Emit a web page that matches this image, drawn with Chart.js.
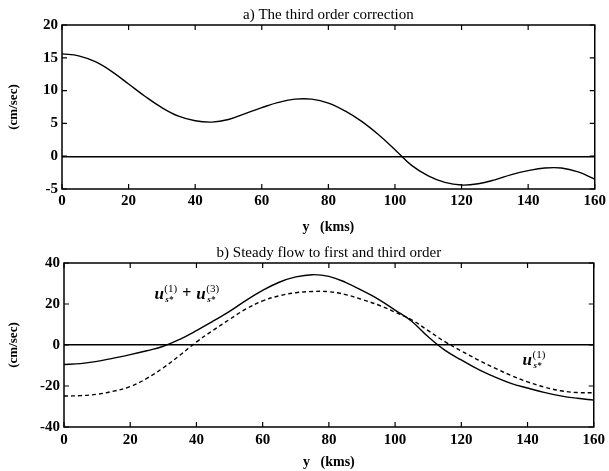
<!DOCTYPE html>
<html>
<head>
<meta charset="utf-8">
<script src="https://cdn.jsdelivr.net/npm/chart.js@4/dist/chart.umd.min.js"></script>
<style>
  html, body { margin: 0; padding: 0; background: #fff; }
  .panel { position: absolute; left: 0; width: 609px; }
  #panelA { top: 0; height: 236px; }
  #panelB { top: 236px; height: 235px; }
</style>
</head>
<body>
<div id="panelA" class="panel"><canvas id="chartA"></canvas></div>
<div id="panelB" class="panel"><canvas id="chartB"></canvas></div>
<script>
// Cross-channel position (km)
const kms = [0, 5, 10, 15, 20, 25, 30, 35, 40, 45, 50, 55, 60, 65, 70, 75, 80,
             85, 90, 95, 100, 105, 110, 115, 120, 125, 130, 135, 140, 145, 150, 155, 160];

// a) third order correction (cm/sec)
const thirdOrder = [15.6, 15.3, 14.4, 12.9, 11.0, 9.1, 7.4, 6.1, 5.4, 5.2, 5.6, 6.5, 7.4,
                    8.2, 8.7, 8.7, 8.1, 6.9, 5.3, 3.3, 1.0, -1.4, -3.0, -4.0, -4.4, -4.2,
                    -3.6, -2.8, -2.2, -1.8, -1.8, -2.4, -3.5];

// b) steady flow, first + third order (cm/sec)
const firstPlusThird = [-9.5, -9.1, -8.0, -6.4, -4.7, -2.8, -0.6, 2.8, 7.0, 11.6, 16.4,
                        21.8, 26.6, 30.6, 33.2, 34.3, 33.5, 30.6, 26.6, 22.3, 17.0, 11.6,
                        4.0, -2.5, -7.3, -11.8, -15.5, -18.7, -21.0, -23.1, -24.8, -26.0, -26.9];

// b) steady flow, first order only (cm/sec)
const firstOrder = [-24.9, -24.7, -24.0, -22.5, -20.3, -16.3, -11.1, -5.0, 1.5, 7.1, 12.5,
                    17.6, 21.5, 24.0, 25.5, 26.1, 26.0, 24.6, 22.2, 19.5, 16.0, 12.3,
                    7.0, 1.6, -2.9, -7.2, -11.2, -14.8, -18.0, -20.5, -22.3, -23.2, -23.3];

const xTicks = [0, 20, 40, 60, 80, 100, 120, 140, 160];
const yTicksA = [-5, 0, 5, 10, 15, 20];
const yTicksB = [-40, -20, 0, 20, 40];

const SERIF = "'Liberation Serif', 'DejaVu Serif', serif";

function pts(xs, ys) { return xs.map((x, i) => ({ x: x, y: ys[i] })); }

// Frame around the plot area, inward tick marks on all four sides,
// and the panel heading centred over the plot area
const framePlugin = {
  id: 'frame',
  afterDraw(chart, args, opts) {
    const { ctx, chartArea: a, scales } = chart;
    ctx.save();
    ctx.strokeStyle = '#000';
    ctx.lineWidth = 1.5;
    ctx.strokeRect(a.left, a.top, a.right - a.left, a.bottom - a.top);
    ctx.lineWidth = 1.2;
    const len = 5;
    ctx.beginPath();
    scales.x.ticks.forEach(t => {
      const px = scales.x.getPixelForValue(t.value);
      ctx.moveTo(px, a.bottom); ctx.lineTo(px, a.bottom - len);
      ctx.moveTo(px, a.top); ctx.lineTo(px, a.top + len);
    });
    scales.y.ticks.forEach(t => {
      const py = scales.y.getPixelForValue(t.value);
      ctx.moveTo(a.left, py); ctx.lineTo(a.left + len, py);
      ctx.moveTo(a.right, py); ctx.lineTo(a.right - len, py);
    });
    ctx.stroke();
    if (opts.heading) {
      ctx.fillStyle = '#000';
      ctx.font = "15px " + SERIF;
      ctx.textAlign = 'center';
      ctx.textBaseline = 'middle';
      ctx.fillText(opts.heading, (a.left + a.right) / 2, a.top - 10);
    }
    ctx.restore();
  }
};

// Math-style curve labels: u with superscript order and subscript s*
function drawU(ctx, x, y, order) {
  ctx.font = "italic bold 17px " + SERIF;
  ctx.fillText('u', x, y);
  const w = ctx.measureText('u').width;
  ctx.font = "11px " + SERIF;
  const sup = '(' + order + ')';
  ctx.fillText(sup, x + w + 0.5, y - 7);
  ctx.font = "italic bold 9px " + SERIF;
  ctx.fillText('s*', x + w + 1.5, y + 3.5);
  ctx.font = "11px " + SERIF;
  return x + w + 0.5 + ctx.measureText(sup).width;
}

const curveLabels = [
  { x: 27.3, y: 22.6, parts: [1, '+', 3] },
  { x: 138.5, y: -9.6, parts: [1] }
];

const labelPlugin = {
  id: 'curveLabels',
  afterDatasetsDraw(chart, args, opts) {
    if (!opts.items) return;
    const { ctx, scales } = chart;
    ctx.save();
    ctx.fillStyle = '#000';
    ctx.textBaseline = 'alphabetic';
    ctx.textAlign = 'left';
    opts.items.forEach(item => {
      let px = scales.x.getPixelForValue(item.x);
      const py = scales.y.getPixelForValue(item.y);
      item.parts.forEach(p => {
        if (p === '+') {
          ctx.font = "bold 16px " + SERIF;
          ctx.fillText('+', px + 5, py - 1);
          px += 5 + ctx.measureText('+').width + 5;
        } else {
          px = drawU(ctx, px, py, p);
        }
      });
    });
    ctx.restore();
  }
};

function makeChart(id, cfg) {
  return new Chart(document.getElementById(id), {
    type: 'line',
    data: { datasets: cfg.datasets },
    options: {
      responsive: true,
      maintainAspectRatio: false,
      animation: false,
      layout: { padding: { left: 0, right: cfg.padRight, top: cfg.padTop, bottom: 0 } },
      elements: {
        point: { radius: 0 },
        line: { tension: 0.4, borderColor: '#000', borderWidth: 1.4, fill: false }
      },
      plugins: {
        legend: { display: false },
        tooltip: { enabled: false },
        title: { display: false },
        frame: { heading: cfg.title },
        curveLabels: { items: cfg.labels }
      },
      scales: {
        x: {
          type: 'linear',
          min: 0, max: 160,
          afterBuildTicks: s => { s.ticks = xTicks.map(v => ({ value: v })); },
          afterFit: s => { s.height = cfg.xHeight; },
          grid: { display: false, drawTicks: false },
          border: { display: false },
          ticks: {
            color: '#000', padding: cfg.xTickPad, autoSkip: false, maxRotation: 0,
            font: { family: SERIF, size: 15, weight: 'bold' }
          },
          title: {
            display: true, text: 'y   (kms)', color: '#000',
            font: { family: SERIF, size: 14, weight: 'bold', lineHeight: 1.2 },
            padding: { top: cfg.xTitlePad, bottom: 0 }
          }
        },
        y: {
          type: 'linear',
          min: cfg.yMin, max: cfg.yMax,
          afterBuildTicks: s => { s.ticks = cfg.yTicks.map(v => ({ value: v })); },
          afterFit: s => { s.width = cfg.yWidth; },
          grid: {
            drawTicks: false,
            lineWidth: 1.4,
            color: c => (c.tick && c.tick.value === 0 ? '#000' : 'rgba(0,0,0,0)')
          },
          border: { display: false },
          ticks: {
            color: '#000', padding: 4, autoSkip: false,
            font: { family: SERIF, size: 15, weight: 'bold' }
          },
          title: {
            display: true, text: '(cm/sec)', color: '#000',
            font: { family: SERIF, size: 13, weight: 'bold', lineHeight: 1.2 },
            padding: { top: 6, bottom: 0 }
          }
        }
      }
    },
    plugins: [framePlugin, labelPlugin]
  });
}

makeChart('chartA', {
  title: 'a) The third order correction',
  padTop: 25,
  padRight: 12,
  xHeight: 47,
  xTickPad: 3,
  xTitlePad: 6.2,
  yWidth: 62,
  yMin: -5, yMax: 20,
  yTicks: yTicksA,
  labels: null,
  datasets: [
    { data: pts(kms, thirdOrder) }
  ]
});

makeChart('chartB', {
  title: 'b) Steady flow to first and third order',
  padTop: 27,
  padRight: 10,
  xHeight: 44,
  xTickPad: 4,
  xTitlePad: 1.2,
  yWidth: 64,
  yMin: -40, yMax: 40,
  yTicks: yTicksB,
  labels: curveLabels,
  datasets: [
    { data: pts(kms, firstPlusThird) },
    { data: pts(kms, firstOrder), borderDash: [4, 3] }
  ]
});
</script>
</body>
</html>
